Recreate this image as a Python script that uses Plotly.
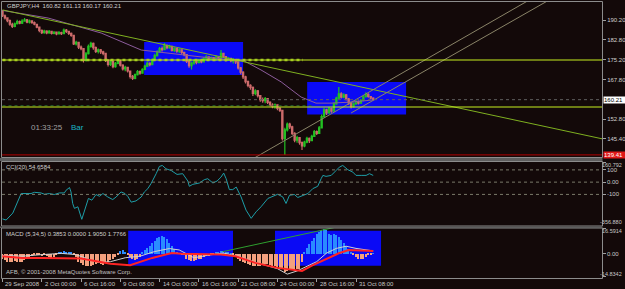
import plotly.graph_objects as go

W, H = 625, 289
BG = "#130909"


def px(x):
    return x / W


def py(y):
    return 1 - y / H


# ---------------- data ----------------
header_text = "GBPJPY,H4  160.82 161.13 160.17 160.21"
first_open = 193.6
last_open = 160.82

close = [191.8, 191.0, 190.0, 188.6, 187.8, 188.8, 189.6, 189.0, 189.8, 190.3,
         189.4, 189.9, 189.2, 188.6, 187.5, 186.3, 185.4, 186.0, 185.3, 185.9,
         185.2, 185.6, 185.0, 185.5, 185.1, 186.4, 185.9, 185.2, 184.4, 181.2,
         181.8, 180.0, 179.4, 175.0, 177.5, 180.3, 181.4, 179.8, 178.4, 179.0,
         178.2, 177.6, 175.0, 173.5, 174.6, 172.6, 173.9, 174.8, 173.2, 171.8,
         172.4, 171.0, 169.0, 168.2, 169.6, 170.8, 170.2, 171.6, 172.8, 173.9,
         173.4, 175.2, 176.8, 178.2, 179.4, 179.0, 180.6, 179.8, 180.3, 178.8,
         179.4, 178.5, 179.0, 178.0, 177.2, 174.6, 173.0, 174.0, 174.9, 174.2,
         175.0, 174.4, 175.6, 176.3, 175.5, 176.0, 175.3, 176.2, 175.6, 177.6,
         176.4, 175.2, 175.8, 174.9, 175.4, 174.4, 172.2, 170.6, 168.8, 167.0,
         165.6, 164.8, 162.6, 163.5, 161.7, 160.2, 159.8, 160.6, 159.2, 158.2,
         157.6, 158.3, 156.9, 156.2, 145.5, 148.8, 151.0, 150.0, 147.5, 145.0,
         145.9, 144.0, 142.8, 144.2, 145.6, 144.8, 146.4, 148.2, 147.5, 149.6,
         153.8, 156.4, 155.2, 156.8, 155.9, 158.6, 160.8, 162.4, 161.2, 162.0,
         160.5, 159.0, 157.6, 158.6, 159.5, 158.9, 159.9, 161.3, 162.2, 161.4,
         160.82, 160.21]
high = [194.0, 192.3, 191.2, 190.4, 189.2, 189.3, 190.3, 190.0, 190.5, 191.0,
        190.6, 190.4, 190.1, 189.6, 188.8, 187.7, 186.6, 186.5, 186.3, 186.4,
        186.2, 186.0, 185.9, 186.1, 185.8, 187.0, 186.8, 186.2, 185.5, 184.6,
        182.4, 182.0, 180.6, 179.5, 178.2, 181.0, 182.0, 181.7, 180.2, 179.5,
        179.3, 178.6, 177.8, 175.4, 175.1, 174.8, 174.4, 175.4, 175.2, 173.5,
        173.0, 172.6, 171.2, 169.5, 170.1, 171.4, 171.2, 172.0, 173.4, 174.5,
        174.3, 175.8, 177.5, 178.8, 180.0, 180.2, 181.5, 181.0, 180.9, 180.5,
        179.9, 179.6, 179.5, 179.2, 178.2, 177.4, 175.0, 174.5, 175.4, 175.2,
        175.6, 175.4, 176.2, 176.9, 176.6, 176.5, 176.3, 176.8, 176.5, 178.9,
        177.9, 176.6, 176.3, 176.0, 175.9, 175.6, 174.6, 172.5, 170.9, 169.2,
        167.4, 166.0, 165.2, 164.1, 163.8, 162.0, 161.0, 161.2, 160.8, 159.6,
        158.9, 158.8, 158.5, 157.4, 156.3, 149.6, 151.6, 151.5, 150.4, 147.9,
        146.6, 146.1, 144.5, 144.7, 146.2, 146.0, 147.0, 148.8, 148.6, 150.3,
        154.6, 157.1, 156.8, 157.4, 157.2, 159.2, 161.3, 165.0, 163.0, 162.6,
        162.3, 160.8, 159.4, 159.1, 160.1, 159.9, 160.5, 161.8, 163.0, 162.6,
        161.6, 161.13]
low = [191.3, 190.4, 189.4, 188.0, 187.2, 187.5, 188.5, 188.6, 188.7, 189.5,
       189.0, 188.9, 188.8, 188.2, 187.1, 185.6, 184.9, 185.0, 184.8, 185.0,
       184.7, 184.8, 184.5, 184.7, 184.6, 184.9, 185.3, 184.6, 183.9, 180.8,
       180.6, 179.3, 178.8, 174.2, 174.6, 177.2, 179.8, 179.0, 177.8, 177.6,
       177.4, 176.9, 174.4, 172.7, 172.9, 172.0, 172.2, 173.5, 172.7, 171.2,
       170.9, 170.4, 168.2, 167.6, 167.9, 169.3, 169.6, 170.0, 171.3, 172.5,
       172.8, 173.2, 175.0, 176.5, 177.9, 178.3, 178.8, 179.2, 179.4, 178.3,
       178.2, 177.9, 177.8, 177.4, 176.6, 174.0, 172.2, 171.6, 173.4, 173.5,
       173.8, 173.9, 174.2, 175.2, 175.0, 175.1, 174.8, 175.0, 175.1, 175.4,
       175.9, 174.6, 174.8, 174.3, 173.8, 173.6, 171.6, 169.8, 168.0, 166.3,
       164.9, 163.9, 161.6, 161.9, 161.0, 159.4, 159.0, 158.9, 158.6, 157.6,
       157.0, 156.8, 156.2, 155.6, 144.8, 139.4, 148.2, 149.2, 146.9, 144.2,
       144.0, 143.2, 141.3, 142.3, 143.8, 143.9, 144.6, 146.2, 146.9, 147.3,
       149.4, 153.4, 154.4, 154.9, 155.3, 155.7, 158.3, 160.5, 160.6, 160.7,
       159.9, 158.3, 156.9, 157.2, 158.3, 158.4, 158.7, 159.6, 161.0, 160.9,
       160.4, 160.17]

tick_bars = [0, 16, 32, 48, 64, 80, 96, 112, 128, 144]
tick_labels = ["29 Sep 2008", "2 Oct 00:00", "6 Oct 16:00", "9 Oct 08:00",
               "14 Oct 00:00", "16 Oct 16:00", "21 Oct 08:00", "24 Oct 00:00",
               "28 Oct 16:00", "31 Oct 08:00"]

price_ticks = [190.20, 182.80, 175.20, 167.80, 152.80, 145.40]
price_tick_text = ["190.20", "182.80", "175.20", "167.80", "152.80", "145.40"]
bid_price = 160.21
support_price = 139.41
upper_level = 175.14
lower_level = 157.45

ma_bars = [0, 18.6, 40.2, 56.5, 80.9, 98.4, 105.3, 113.5, 121.6, 127.7, 133.8, 142.0, 151]
ma_values = [193.8, 190.95, 185.3, 178.9, 176.3, 174.8, 171.4, 166.9, 161.2, 158.9, 158.9, 159.3, 160.1]

trend_bars = [0, 244.6]
trend_values = [194.0, 145.4]
chan_a_bars = [102.5, 214.5]
chan_a_values = [138.2, 197.7]
chan_b_bars = [142.0, 222.6]
chan_b_values = [155.2, 197.7]

box1_bars = [57.7, 98.0]
box1_prices = [169.5, 181.9]
box2_bars = [124.1, 164.4]
box2_prices = [154.6, 166.9]

cci_bars = [0, 1.5, 4.2, 6.9, 7.6, 11.6, 13.0, 15.7, 17.1, 19.1, 21.1, 23.2, 25.2, 25.9,
            27.3, 27.9, 28.6, 29.3, 30.7, 32.3, 33.4, 35.0, 36.4, 38.1, 39.5, 40.9,
            42.9, 44.9, 46.3, 48.3, 49.9, 51.0, 52.4, 54.4, 56.5, 57.8, 59.2, 60.5,
            62.6, 63.9, 65.1, 66.6, 68.7, 70.0, 71.1, 73.4, 75.5, 76.1, 77.5, 80.2,
            82.2, 83.6, 85.7, 87.4, 89.0, 90.1, 91.1, 92.4, 93.8, 95.2, 97.2, 99.2,
            101.3, 103.3, 105.3, 108.1, 110.1, 112.1, 114.2, 115.5, 116.9, 118.9,
            120.3, 122.3, 124.4, 126.4, 128.4, 129.8, 130.5, 131.8, 133.9, 135.9,
            137.2, 138.6, 140.7, 142.7, 144.0, 146.1, 148.1, 149.5, 151]
cci_values = [-300, -309, -252, -121, -93, -93, -83, -88, -99, -93, -101, -88, -88, -66,
              -44, -80, -174, -214, -201, -303, -228, -133, -147, -101, -115, -93,
              -121, -142, -121, -80, -93, -115, -163, -153, -121, -80, -53, -12,
              69, 128, 136, 109, 95, 74, 63, 69, 9, -34, -18, -7,
              20, 28, -7, 9, 41, 74, 28, -61, -61, -40, -121, -228,
              -295, -242, -201, -133, -115, -99, -121, -174, -107, -101,
              -125, -107, -93, -53, -34, 28, 55, 47, 55, 95,
              122, 136, 101, 82, 55, 55, 55, 69, 54.66]
cci_levels = [100, 0, -100]

macd_hist = [-3, -4, -5, -5.5, -5, -4.5, -5, -5.5, -5, -4, -3, -2.5,
             -1.5, -1, -0.5, -1, -1.5, -1,
             -1.5, -2, -2.5, -2, -1,
             1.0, 1.5, 1.8, 1.5, 1.2, 0.8,
             -1, -2,
             -5, -6, -7, -8, -8, -7.5, -7, -6.5, -6, -6.5, -7, -6, -5, -4,
             -3, -2, -1,
             2, 2.5, 1.5,
             -0.5,
             -2, -3.5, -3.8, -3, -2,
             1.5, 2.5, 3.8, 5, 7, 8.5, 10, 11, 11.5, 11, 9.5, 7, 5, 3, 1.5,
             0.5, -0.5, -1,
             -3, -4, -4.5, -4.7, -4, -3.5,
             -3, -2, -1.5, -1.5, -1, -0.5,
             1, 1.5, 2, 2, 1.5, 1, 0.5,
             -1, -2, -3.5, -4.5, -5.5, -6, -6.5, -7, -7.5, -8, -8, -7.5, -7, -6.5,
             -6.5, -7, -7.5, -8, -8.5, -9,
             -10, -11.5, -11, -10.5, -10, -10.5, -10, -9.5,
             -5, 1, 4, 6.5, 8.5, 10.5, 12.5, 14, 15, 16, 15, 13, 12, 13, 12, 11,
             9, 7, 5, 3, 1,
             -1, -2, -3, -3, -3, -2, -1, -0.5, 0.39]
macd_bars = [0, 8, 16, 24, 30, 36, 40, 44, 50, 56, 62, 68, 72, 78, 84, 90, 96, 104,
             112, 116, 120, 124, 128, 132, 136, 140, 144, 151]
macd_values = [-1.0, -1.5, -0.5, 0.3, -0.5, -4, -5.5, -5, -2.5, -1.5, 1.5, 3.4, 2.5,
               -2.5, -0.8, 0.5, -1.5, -6, -9.5, -13, -11, -8, -5, 0.5, 3.5, 4.9, 3.5, 1.905]
signal_bars = [0, 8, 16, 27, 32, 44, 52, 61, 69, 73, 81, 89, 95, 103, 112, 122, 126,
               131, 137, 141, 146, 151]
signal_values = [-1.5, -2.6, -2.6, -2.6, -3.0, -6.4, -7.3, -2.6, 0.6, 0, -0.4, -0.4,
                 -1.5, -5.8, -9.0, -11, -7.5, -3.9, 0.4, 2.4, 1.9, 1.7766]
macd_trend_bars = [89.7, 136.6]
macd_trend_values = [1.4, 17.4]
macd_box1_bars = [51.2, 93.9]
macd_box2_bars = [111.0, 154.2]
macd_box_values = [-7.6, 14.9]

assert len(close) == len(high) == len(low) == len(macd_hist)
assert len(cci_bars) == len(cci_values)
n_bars = len(close)
bars = list(range(n_bars))
opens = [first_open] + close[:-1]
opens[-1] = last_open

# ---------------- figure ----------------
BLUE = "#0a0af5"
fig = go.Figure()

fig.add_trace(go.Candlestick(
    x=bars, open=opens, high=high, low=low, close=close,
    xaxis="x", yaxis="y", whiskerwidth=0,
    increasing=dict(line=dict(color="#22c022", width=1.2), fillcolor="#22c022"),
    decreasing=dict(line=dict(color="#cc6a6a", width=1.2), fillcolor="#cc6a6a"),
    showlegend=False, hoverinfo="skip"))

fig.add_trace(go.Scatter(x=ma_bars, y=ma_values, mode="lines",
                         line=dict(color="#8c5c9c", width=1), xaxis="x", yaxis="y"))
fig.add_trace(go.Scatter(x=trend_bars, y=trend_values, mode="lines",
                         line=dict(color="#7fb020", width=1), xaxis="x", yaxis="y"))
for bx, by in [(chan_a_bars, chan_a_values), (chan_b_bars, chan_b_values)]:
    fig.add_trace(go.Scatter(x=bx, y=by, mode="lines",
                             line=dict(color="#8a8468", width=1), xaxis="x", yaxis="y"))

# CCI
fig.add_trace(go.Scatter(x=cci_bars, y=cci_values, mode="lines",
                         line=dict(color="#1e9ea8", width=1), xaxis="x2", yaxis="y2"))

# MACD
hist_colors = ["#2a8cff" if v >= 0 else "#f4a07e" for v in macd_hist]
fig.add_trace(go.Bar(x=bars, y=macd_hist, marker=dict(color=hist_colors, line=dict(width=0)),
                     width=0.55, xaxis="x3", yaxis="y3"))
fig.add_trace(go.Scatter(x=macd_trend_bars, y=macd_trend_values, mode="lines",
                         line=dict(color="#2fa02f", width=1), xaxis="x3", yaxis="y3"))
fig.add_trace(go.Scatter(x=macd_bars, y=macd_values, mode="lines",
                         line=dict(color="#d0d0d0", width=1), xaxis="x3", yaxis="y3"))
fig.add_trace(go.Scatter(x=signal_bars, y=signal_values, mode="lines",
                         line=dict(color="#ff2424", width=2), xaxis="x3", yaxis="y3"))

shapes = []
# blue boxes
shapes.append(dict(type="rect", xref="x", yref="y", x0=box1_bars[0], x1=box1_bars[1],
                   y0=box1_prices[0], y1=box1_prices[1], fillcolor=BLUE, line=dict(width=0), layer="below"))
shapes.append(dict(type="rect", xref="x", yref="y", x0=box2_bars[0], x1=box2_bars[1],
                   y0=box2_prices[0], y1=box2_prices[1], fillcolor=BLUE, line=dict(width=0), layer="below"))
for bx in (macd_box1_bars, macd_box2_bars):
    shapes.append(dict(type="rect", xref="x3", yref="y3", x0=bx[0], x1=bx[1],
                       y0=macd_box_values[0], y1=macd_box_values[1], fillcolor=BLUE,
                       line=dict(width=0), layer="below"))
# horizontal levels
shapes.append(dict(type="line", xref="x domain", yref="y", x0=0, x1=1, y0=upper_level, y1=upper_level,
                   line=dict(color="#c8f020", width=1.2)))
shapes.append(dict(type="line", xref="x", yref="y", x0=0, x1=122.4, y0=upper_level, y1=upper_level,
                   line=dict(color="#a8d020", width=2.5, dash="dot")))
shapes.append(dict(type="line", xref="x", yref="y", x0=0, x1=126, y0=lower_level + 0.5, y1=lower_level + 0.5,
                   line=dict(color="#24602a", width=1, dash="dot")))
shapes.append(dict(type="line", xref="x domain", yref="y", x0=0, x1=1, y0=lower_level, y1=lower_level,
                   line=dict(color="#c8f020", width=1.2)))
shapes.append(dict(type="line", xref="x domain", yref="y", x0=0, x1=1, y0=bid_price, y1=bid_price,
                   line=dict(color="#5e5e5e", width=1, dash="dot")))
shapes.append(dict(type="line", xref="x domain", yref="y", x0=0, x1=1, y0=support_price, y1=support_price,
                   line=dict(color="#b00000", width=1)))
for lv in cci_levels:
    shapes.append(dict(type="line", xref="x2 domain", yref="y2", x0=0, x1=1, y0=lv, y1=lv,
                       line=dict(color="#7a7a6a", width=1, dash="dot")))

# pane frames and separators
FRAME = "#8c8c8c"
for (t, b) in [(1.5, 157.5), (161.5, 226.0), (228.0, 278.5)]:
    shapes.append(dict(type="rect", xref="paper", yref="paper", x0=px(1.5), x1=px(602.5),
                       y0=py(b), y1=py(t), line=dict(color=FRAME, width=1), fillcolor="rgba(0,0,0,0)"))
shapes.append(dict(type="rect", xref="paper", yref="paper", x0=px(0), x1=px(602.5),
                   y0=py(161), y1=py(158), line=dict(width=0), fillcolor="#5e5e5e"))
shapes.append(dict(type="rect", xref="paper", yref="paper", x0=px(0), x1=px(602.5),
                   y0=py(228), y1=py(226.5), line=dict(width=0), fillcolor="#5e5e5e"))

ann = []
FONT = "Liberation Sans, Arial, sans-serif"


def text(x, y, s, color="#c8c8c8", size=6, anchor="left"):
    ann.append(dict(x=px(x), y=py(y), xref="paper", yref="paper", text=s, showarrow=False,
                    xanchor=anchor, yanchor="middle", font=dict(family=FONT, size=size, color=color)))


text(5, 6, header_text, "#d0d0d0")
text(29, 127, "01:33:25", "#a0a0a0", 8)
text(69, 127, "Bar", "#1ab4c4", 8)
text(4, 167, "CCI(20) 54.6584", "#d0d0d0")
text(4, 234, "MACD (5,34,5) 0.3853 0.0000 1.9050 1.7766", "#d0d0d0")
text(4, 272, "AFB, \u00a9 2001-2008 MetaQuotes Software Corp.", "#c0c0c0")

# bid and support labels
ann.append(dict(x=px(603), y=bid_price, xref="paper", yref="y", text="160.21", showarrow=False,
                xanchor="left", yanchor="middle", bgcolor="#ffffff", borderpad=0, width=21, align="left",
                font=dict(family=FONT, size=6, color="#000000")))
ann.append(dict(x=px(603), y=support_price, xref="paper", yref="y", text="139.41", showarrow=False,
                xanchor="left", yanchor="middle", bgcolor="#e01818", borderpad=0, width=21, align="left",
                font=dict(family=FONT, size=6, color="#ffffff")))

# CCI / MACD scale labels
for yy, s in [(170, "100"), (182, "0.00"), (194, "-100"), (254, "0.00")]:
    text(605, yy, s, "#c8c8c8")
for yy, s in [(165, "160.792"), (222, "-356.880"), (231, "16.5914"), (274, "-14.8342")]:
    text(624, yy, s, "#c8c8c8", 5.5, anchor="right")

# time labels
for b, lab in zip(tick_bars, tick_labels):
    ann.append(dict(x=b, y=py(284), xref="x3", yref="paper", text=lab, showarrow=False,
                    xanchor="left", yanchor="middle", xshift=1,
                    font=dict(family=FONT, size=6, color="#c8c8c8")))

axis_common = dict(showgrid=False, zeroline=False, showline=False)
xr = [-0.2, 244.2]
fig.update_layout(
    width=W, height=H, margin=dict(l=0, r=0, t=0, b=0),
    paper_bgcolor=BG, plot_bgcolor=BG, showlegend=False,
    font=dict(family=FONT, size=6, color="#c8c8c8"),
    shapes=shapes, annotations=ann, bargap=0,
    xaxis=dict(domain=[px(2), px(602)], range=xr, anchor="y", showticklabels=False,
               rangeslider=dict(visible=False), **axis_common),
    xaxis2=dict(domain=[px(2), px(602)], range=xr, matches="x", anchor="y2",
                showticklabels=False, **axis_common),
    xaxis3=dict(domain=[px(2), px(602)], range=xr, matches="x", anchor="y3",
                showticklabels=False, tickvals=tick_bars, ticks="outside", ticklen=3,
                tickcolor="#a0a0a0", **axis_common),
    yaxis=dict(domain=[py(157), py(2)], range=[138.62, 196.98], anchor="x", side="right",
               tickvals=price_ticks, ticktext=price_tick_text, ticks="outside", ticklen=3,
               tickcolor="#a0a0a0", tickfont=dict(family=FONT, size=6, color="#d0d0d0"),
               **axis_common),
    yaxis2=dict(domain=[py(226), py(161.5)], range=[-357.6, 168.3], anchor="x2", side="right",
                showticklabels=False, tickvals=[160.79, 100, 0, -100], ticks="outside", ticklen=3,
                tickcolor="#a0a0a0", **axis_common),
    yaxis3=dict(domain=[py(278), py(228)], range=[-15.5, 16.6], anchor="x3", side="right",
                showticklabels=False, tickvals=[16.59, 0, -14.83], ticks="outside", ticklen=3,
                tickcolor="#a0a0a0", **axis_common),
)

fig.write_html("out.html")
